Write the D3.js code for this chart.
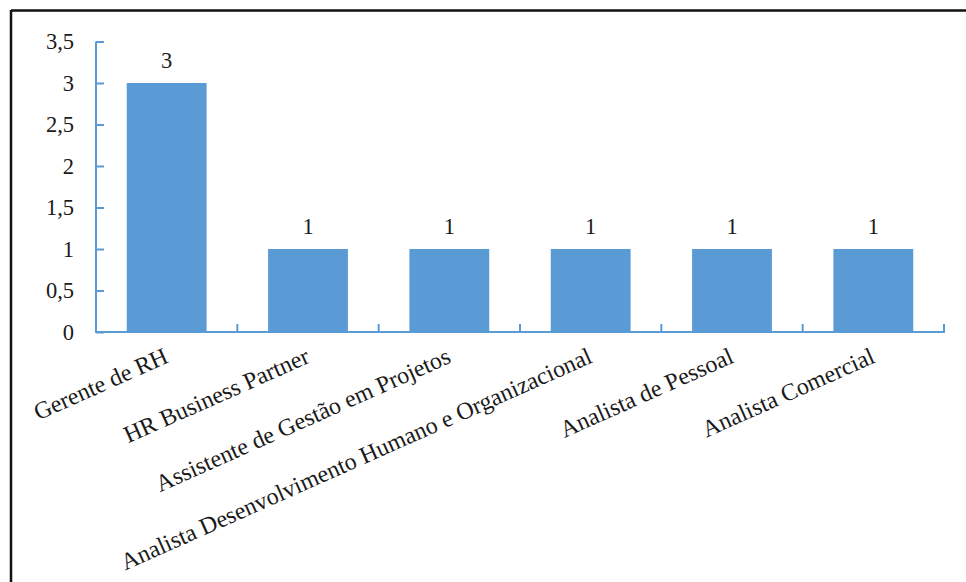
<!DOCTYPE html>
<html>
<head>
<meta charset="utf-8">
<script src="https://cdn.jsdelivr.net/npm/d3@7"></script>
<style>
  html, body { margin: 0; padding: 0; background: #fff; }
  svg { display: block; }
</style>
</head>
<body>
<svg id="chart" width="966" height="582"></svg>
<script>
const categories = [
  "Gerente de RH",
  "HR Business Partner",
  "Assistente de Gestão em Projetos",
  "Analista Desenvolvimento Humano e Organizacional",
  "Analista de Pessoal",
  "Analista Comercial"
];
const values = [3, 1, 1, 1, 1, 1];
const yTicks = [0, 0.5, 1, 1.5, 2, 2.5, 3, 3.5];
const yTickLabels = ["0", "0,5", "1", "1,5", "2", "2,5", "3", "3,5"];

(function () {
const svg = d3.select("#chart");
const W = 966, H = 582;
const mLeft = 96, mRight = 944, mTop = 41.5, mBottom = 332;
const axisColor = "#5B9BD5";
const barColor = "#5B9BD5";
const font = "'Liberation Serif', 'Times New Roman', serif";

// frame (only top and left edges visible)
svg.append("line").attr("x1", 11).attr("x2", W).attr("y1", 10.5).attr("y2", 10.5)
  .attr("stroke", "#111").attr("stroke-width", 2.5);
svg.append("line").attr("x1", 11).attr("x2", 11).attr("y1", 10).attr("y2", H)
  .attr("stroke", "#111").attr("stroke-width", 2.5);

const x = d3.scaleBand().domain(categories).range([mLeft, mRight]).paddingInner(0.435).paddingOuter(0.2175);
const xBoundary = d3.scaleLinear().domain([0, categories.length]).range([mLeft, mRight]);
const y = d3.scaleLinear().domain([0, 3.5]).range([mBottom, mTop]);

// bars
svg.append("g").selectAll("rect").data(values).join("rect")
  .attr("x", (d, i) => x(categories[i]))
  .attr("width", x.bandwidth())
  .attr("y", d => y(d))
  .attr("height", d => y(0) - y(d))
  .attr("fill", barColor);

// y axis (ticks pointing inward/right)
const yAxis = d3.axisRight(y).tickValues(yTicks).tickSize(8).tickFormat("");
const gy = svg.append("g").attr("transform", `translate(${mLeft},0)`).call(yAxis);
gy.select(".domain").remove();
gy.selectAll(".tick line").attr("stroke", axisColor).attr("stroke-width", 2);
svg.append("line").attr("x1", mLeft).attr("x2", mLeft).attr("y1", mTop).attr("y2", mBottom)
  .attr("stroke", axisColor).attr("stroke-width", 2);

// y tick labels
svg.append("g").selectAll("text").data(yTicks).join("text")
  .attr("x", mLeft - 22)
  .attr("y", d => y(d) + 7.5)
  .attr("text-anchor", "end")
  .attr("font-family", font)
  .attr("font-size", 22.5)
  .attr("fill", "#1a1a1a")
  .text((d, i) => yTickLabels[i]);

// x axis line and boundary ticks (pointing up)
svg.append("line").attr("x1", mLeft - 1).attr("x2", mRight + 1).attr("y1", mBottom).attr("y2", mBottom)
  .attr("stroke", axisColor).attr("stroke-width", 2);
svg.append("g").selectAll("line").data(d3.range(1, categories.length + 1)).join("line")
  .attr("x1", d => xBoundary(d)).attr("x2", d => xBoundary(d))
  .attr("y1", mBottom).attr("y2", mBottom - 8)
  .attr("stroke", axisColor).attr("stroke-width", 2);

// data labels
svg.append("g").selectAll("text").data(values).join("text")
  .attr("x", (d, i) => x(categories[i]) + x.bandwidth() / 2)
  .attr("y", d => y(d) - 15)
  .attr("text-anchor", "middle")
  .attr("font-family", font)
  .attr("font-size", 22.5)
  .attr("fill", "#1a1a1a")
  .text(d => d);

// category labels, rotated
svg.append("g").selectAll("text").data(categories).join("text")
  .attr("transform", d => `translate(${x(d) + x.bandwidth() / 2 + 3},${mBottom + 30}) rotate(-24)`)
  .attr("text-anchor", "end")
  .attr("font-family", font)
  .attr("font-size", 24)
  .attr("fill", "#1a1a1a")
  .text(d => d);
})();
</script>
</body>
</html>
